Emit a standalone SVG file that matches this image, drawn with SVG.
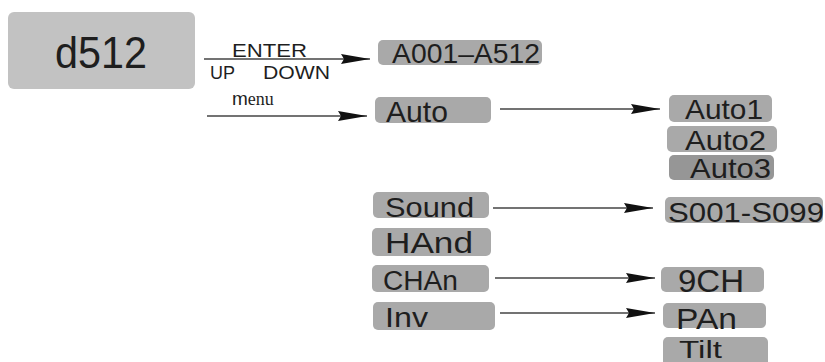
<svg xmlns="http://www.w3.org/2000/svg" width="825" height="362" viewBox="0 0 825 362">
<defs>
<style>
.box{fill:#a9a9a9;}
.t{font-family:"Liberation Sans",Arial,sans-serif;fill:#1e1e1e;}
.lbl{font-family:"Liberation Sans",Arial,sans-serif;fill:#1e1e1e;font-size:18px;}
.c{stroke:#444;stroke-width:1.3;fill:none;marker-end:url(#ah);}
</style>
<marker id="ah" markerUnits="userSpaceOnUse" markerWidth="30" markerHeight="12" refX="29" refY="5" orient="auto">
<path d="M0,0 L29,5 L0,10 L3,5 Z" fill="#111"/>
</marker>
</defs>
<rect width="825" height="362" fill="#fff"/>
<g id="d512">
<rect x="8" y="12" width="187" height="77" rx="6" fill="#c2c2c2"/>
<text class="t" x="55" y="68" font-size="45" textLength="92" lengthAdjust="spacingAndGlyphs">d512</text>
</g>
<g id="connectors">
<path class="c" d="M204,59 H370"/>
<path class="c" d="M207,116 H367"/>
<path class="c" d="M500,109 H660"/>
<path class="c" d="M493,208 H653"/>
<path class="c" d="M495,278 H655"/>
<path class="c" d="M500,313 H655"/>
<text class="lbl" x="232" y="57" textLength="75" lengthAdjust="spacingAndGlyphs">ENTER</text>
<text class="lbl" x="210" y="79" textLength="25" lengthAdjust="spacingAndGlyphs">UP</text>
<text class="lbl" x="263" y="79" textLength="67" lengthAdjust="spacingAndGlyphs">DOWN</text>
<text x="232" y="105" font-size="18" fill="#1e1e1e"><tspan font-family="Liberation Sans, Arial, sans-serif" font-size="19">m</tspan><tspan font-family="Liberation Serif, Times New Roman, serif">enu</tspan></text>
</g>
<g id="a001">
<rect class="box" x="378" y="40" width="164" height="25" rx="5"/>
<text class="t" x="392" y="63" font-size="28" textLength="148" lengthAdjust="spacingAndGlyphs">A001–A512</text>
</g>
<g id="auto">
<rect class="box" x="375" y="97" width="116" height="26" rx="5"/>
<text class="t" x="386" y="122" font-size="29" textLength="62" lengthAdjust="spacingAndGlyphs">Auto</text>
</g>
<g id="auto1">
<rect class="box" x="669" y="95" width="103" height="27" rx="5"/>
<text class="t" x="685" y="119" font-size="28" textLength="78" lengthAdjust="spacingAndGlyphs">Auto1</text>
</g>
<g id="auto2">
<rect class="box" x="667" y="126" width="110" height="26" rx="5"/>
<text class="t" x="685" y="150" font-size="28" textLength="81" lengthAdjust="spacingAndGlyphs">Auto2</text>
</g>
<g id="auto3">
<rect x="669" y="155" width="105" height="25" rx="5" fill="#969696"/>
<text class="t" x="690" y="178" font-size="28" textLength="81" lengthAdjust="spacingAndGlyphs">Auto3</text>
</g>
<g id="sound">
<rect class="box" x="373" y="192" width="116" height="26" rx="5"/>
<text class="t" x="385" y="217" font-size="28" textLength="89" lengthAdjust="spacingAndGlyphs">Sound</text>
</g>
<g id="s001">
<rect class="box" x="665" y="197" width="158" height="26" rx="5"/>
<text class="t" x="668" y="222" font-size="28" textLength="156" lengthAdjust="spacingAndGlyphs">S001-S099</text>
</g>
<g id="hand">
<rect class="box" x="372" y="228" width="119" height="28" rx="5"/>
<text class="t" x="385" y="253" font-size="30" textLength="88" lengthAdjust="spacingAndGlyphs">HAnd</text>
</g>
<g id="chan">
<rect class="box" x="372" y="265" width="117" height="27" rx="5"/>
<text class="t" x="383" y="290" font-size="27" textLength="75" lengthAdjust="spacingAndGlyphs">CHAn</text>
</g>
<g id="ch9">
<rect class="box" x="661" y="267" width="103" height="25" rx="5"/>
<text class="t" x="678" y="292" font-size="31" textLength="66" lengthAdjust="spacingAndGlyphs">9CH</text>
</g>
<g id="inv">
<rect class="box" x="373" y="302" width="122" height="28" rx="5"/>
<text class="t" x="385" y="327" font-size="28" textLength="43" lengthAdjust="spacingAndGlyphs">Inv</text>
</g>
<g id="pan">
<rect class="box" x="663" y="303" width="103" height="25" rx="5"/>
<text class="t" x="676" y="329" font-size="30" textLength="61" lengthAdjust="spacingAndGlyphs">PAn</text>
</g>
<g id="tilt">
<rect class="box" x="663" y="337" width="105" height="30" rx="5"/>
<text class="t" x="679" y="358" font-size="23" textLength="43" lengthAdjust="spacingAndGlyphs">Tilt</text>
</g>
</svg>
